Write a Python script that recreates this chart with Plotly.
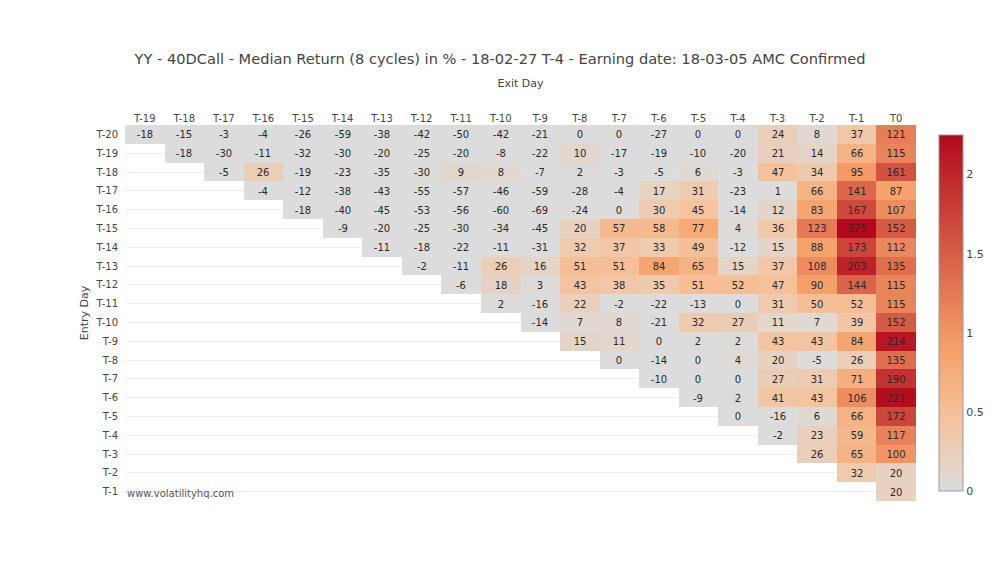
import plotly.graph_objects as go

exit_days = ["T-19", "T-18", "T-17", "T-16", "T-15", "T-14", "T-13", "T-12", "T-11", "T-10",
             "T-9", "T-8", "T-7", "T-6", "T-5", "T-4", "T-3", "T-2", "T-1", "T0"]
entry_days = ["T-20", "T-19", "T-18", "T-17", "T-16", "T-15", "T-14", "T-13", "T-12", "T-11",
              "T-10", "T-9", "T-8", "T-7", "T-6", "T-5", "T-4", "T-3", "T-2", "T-1"]

# Median returns (%) per entry day, starting at the exit day following entry
r_t20 = [-18, -15, -3, -4, -26, -59, -38, -42, -50, -42, -21, 0, 0, -27, 0, 0, 24, 8, 37, 121]
r_t19 = [-18, -30, -11, -32, -30, -20, -25, -20, -8, -22, 10, -17, -19, -10, -20, 21, 14, 66, 115]
r_t18 = [-5, 26, -19, -23, -35, -30, 9, 8, -7, 2, -3, -5, 6, -3, 47, 34, 95, 161]
r_t17 = [-4, -12, -38, -43, -55, -57, -46, -59, -28, -4, 17, 31, -23, 1, 66, 141, 87]
r_t16 = [-18, -40, -45, -53, -56, -60, -69, -24, 0, 30, 45, -14, 12, 83, 167, 107]
r_t15 = [-9, -20, -25, -30, -34, -45, 20, 57, 58, 77, 4, 36, 123, 225, 152]
r_t14 = [-11, -18, -22, -11, -31, 32, 37, 33, 49, -12, 15, 88, 173, 112]
r_t13 = [-2, -11, 26, 16, 51, 51, 84, 65, 15, 37, 108, 203, 135]
r_t12 = [-6, 18, 3, 43, 38, 35, 51, 52, 47, 90, 144, 115]
r_t11 = [2, -16, 22, -2, -22, -13, 0, 31, 50, 52, 115]
r_t10 = [-14, 7, 8, -21, 32, 27, 11, 7, 39, 152]
r_t9 = [15, 11, 0, 2, 2, 43, 43, 84, 214]
r_t8 = [0, -14, 0, 4, 20, -5, 26, 135]
r_t7 = [-10, 0, 0, 27, 31, 71, 190]
r_t6 = [-9, 2, 41, 43, 106, 221]
r_t5 = [0, -16, 6, 66, 172]
r_t4 = [-2, 23, 59, 117]
r_t3 = [26, 65, 100]
r_t2 = [32, 20]
r_t1 = [20]

rows = [r_t20, r_t19, r_t18, r_t17, r_t16, r_t15, r_t14, r_t13, r_t12, r_t11,
        r_t10, r_t9, r_t8, r_t7, r_t6, r_t5, r_t4, r_t3, r_t2, r_t1]

ncol = len(exit_days)
z = []
text = []
for r in rows:
    pad = ncol - len(r)
    z.append([None] * pad + [v / 100 for v in r])
    text.append([""] * pad + [str(v) for v in r])

colorscale = [[0, "rgb(220,220,220)"], [0.2, "rgb(245,195,157)"],
              [0.4, "rgb(245,160,105)"], [1, "rgb(178,10,28)"]]

FONT = "DejaVu Sans"

fig = go.Figure(go.Heatmap(
    z=z, x=exit_days, y=entry_days, text=text, texttemplate="%{text}",
    textfont=dict(family=FONT, size=10, color="#2a2a2a"),
    colorscale=colorscale, zmin=0, zmax=2.25,
    xgap=0, ygap=0, hoverongaps=False,
    colorbar=dict(thickness=24, x=1.0165, outlinecolor="#999", outlinewidth=1,
                  tickfont=dict(family=FONT, size=11, color="#444")),
))

fig.update_layout(
    width=1000, height=584,
    margin=dict(l=117, r=92, t=117, b=91, autoexpand=False),
    paper_bgcolor="white", plot_bgcolor="white",
    font=dict(family=FONT, size=11, color="#444"),
    title=dict(text="YY - 40DCall - Median Return (8 cycles) in % - 18-02-27 T-4 - Earning date: 18-03-05 AMC Confirmed",
               x=0.492, xanchor="center", y=0.9137, yanchor="middle",
               font=dict(family=FONT, size=14.6, color="#444")),
    xaxis=dict(side="top", title=dict(text="Exit Day", font=dict(size=11), standoff=23),
               showgrid=False, ticks="", tickfont=dict(size=10), type="category",
               automargin=False),
    yaxis=dict(title=dict(text="Entry Day", font=dict(size=11), standoff=4),
               autorange="reversed", showgrid=True, gridcolor="#eee", ticks="",
               tickfont=dict(size=10), type="category", zeroline=False,
               ticklabelstandoff=6, automargin=False),
    annotations=[dict(text="www.volatilityhq.com", xref="paper", yref="paper",
                      x=0, y=0.02, xanchor="left", yanchor="middle", showarrow=False,
                      font=dict(family=FONT, size=10, color="#555"))],
)

fig.write_html("out.html")
